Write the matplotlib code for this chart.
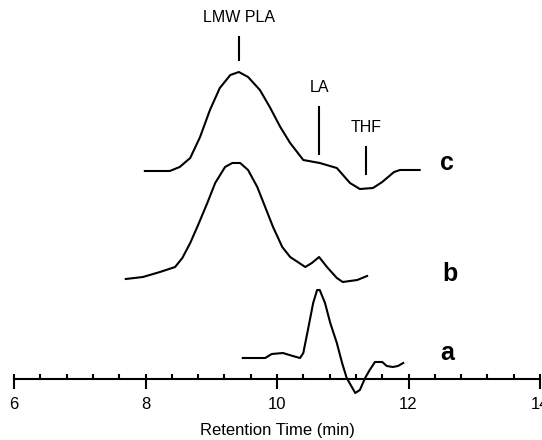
import matplotlib
matplotlib.use('Agg')
import matplotlib.pyplot as plt
from matplotlib.ticker import MultipleLocator
from matplotlib import font_manager

# Chromatogram traces (retention time in min, detector signal in arbitrary units)
time_a = [9.48, 9.82, 9.92, 10.09, 10.24, 10.35, 10.40, 10.47, 10.55, 10.61, 10.65,
          10.73, 10.81, 10.91, 10.99, 11.06, 11.19, 11.26, 11.34, 11.41, 11.49, 11.60,
          11.67, 11.76, 11.84, 11.92]
signal_a = [21, 21, 25, 26, 23, 21, 26, 49, 76, 89, 89,
            76, 56, 36, 16, 1, -14, -11, 1, 9, 17, 17,
            13, 12, 13, 16]

time_b = [7.70, 7.96, 8.22, 8.45, 8.56, 8.68, 8.80, 8.94, 9.06, 9.21, 9.32, 9.44,
          9.56, 9.70, 9.82, 9.94, 10.08, 10.20, 10.43, 10.53, 10.64, 10.76, 10.91,
          11.00, 11.22, 11.37]
signal_b = [100, 102, 107, 112, 121, 136, 154, 176, 196, 212, 216, 216,
            209, 192, 172, 152, 132, 122, 112, 116, 122, 112, 101,
            97, 99, 103]

time_c = [7.99, 8.37, 8.52, 8.68, 8.83, 8.98, 9.13, 9.29, 9.42, 9.56, 9.74, 9.89,
          10.05, 10.20, 10.40, 10.65, 10.91, 11.11, 11.26, 11.46, 11.60, 11.78,
          11.87, 12.17]
signal_c = [208, 208, 212, 221, 242, 269, 291, 304, 307, 302, 289, 272,
            252, 236, 219, 216, 211, 196, 190, 191, 197, 207, 209, 209]

trace_labels = ['a', 'b', 'c']
label_x = [12.59, 12.63, 12.59]
label_y = [26, 105, 216]

# peak markers: name, position, line bottom, line top
peak_names = ['LMW PLA', 'LA', 'THF']
peak_time = [9.42, 10.64, 11.35]
peak_low = [319, 225, 205]
peak_high = [342, 272, 232]

# pick a narrow font for the axis if it is there
names = {f.name for f in font_manager.fontManager.ttflist}
axis_font = 'Liberation Sans Narrow' if 'Liberation Sans Narrow' in names else 'Liberation Sans'

W, H = 542, 440
fig = plt.figure(figsize=(W / 100, H / 100), dpi=100)
ax = fig.add_axes([14 / W, 0, 526 / W, 1])
ax.set_xlim(6, 14)
ax.set_ylim(-61, 379)

for t, s in [(time_a, signal_a), (time_b, signal_b), (time_c, signal_c)]:
    ax.plot(t, s, color='black', linewidth=1.5, clip_on=False)

for lab, x, y in zip(trace_labels, label_x, label_y):
    ax.text(x, y, lab, fontsize=18, fontweight='bold', family='Liberation Sans',
            ha='center', va='center')

for name, t, lo, hi in zip(peak_names, peak_time, peak_low, peak_high):
    ax.plot([t, t], [lo, hi], color='black', linewidth=1.5)
    ax.text(t, hi + 12, name, fontsize=11.5, family='Liberation Sans',
            ha='center', va='bottom')

# axis: only the bottom spine, at signal zero
for side in ['left', 'right', 'top']:
    ax.spines[side].set_visible(False)
ax.spines['bottom'].set_position(('data', 0))
ax.spines['bottom'].set_linewidth(1.5)
ax.set_yticks([])
ax.xaxis.set_major_locator(MultipleLocator(2))
ax.xaxis.set_minor_locator(MultipleLocator(0.4))
ax.xaxis.remove_overlapping_locs = False
ax.tick_params(axis='x', which='major', direction='out', length=7, width=1.5, pad=6,
               labelsize=12)
ax.tick_params(axis='x', which='minor', direction='in', length=3.5, width=1.5)
for lbl in ax.get_xticklabels():
    lbl.set_family(axis_font)
ax.set_xlabel('Retention Time (min)', fontsize=12, family=axis_font, labelpad=8)
ax.patch.set_visible(False)

fig.savefig('out.png', dpi=100)
